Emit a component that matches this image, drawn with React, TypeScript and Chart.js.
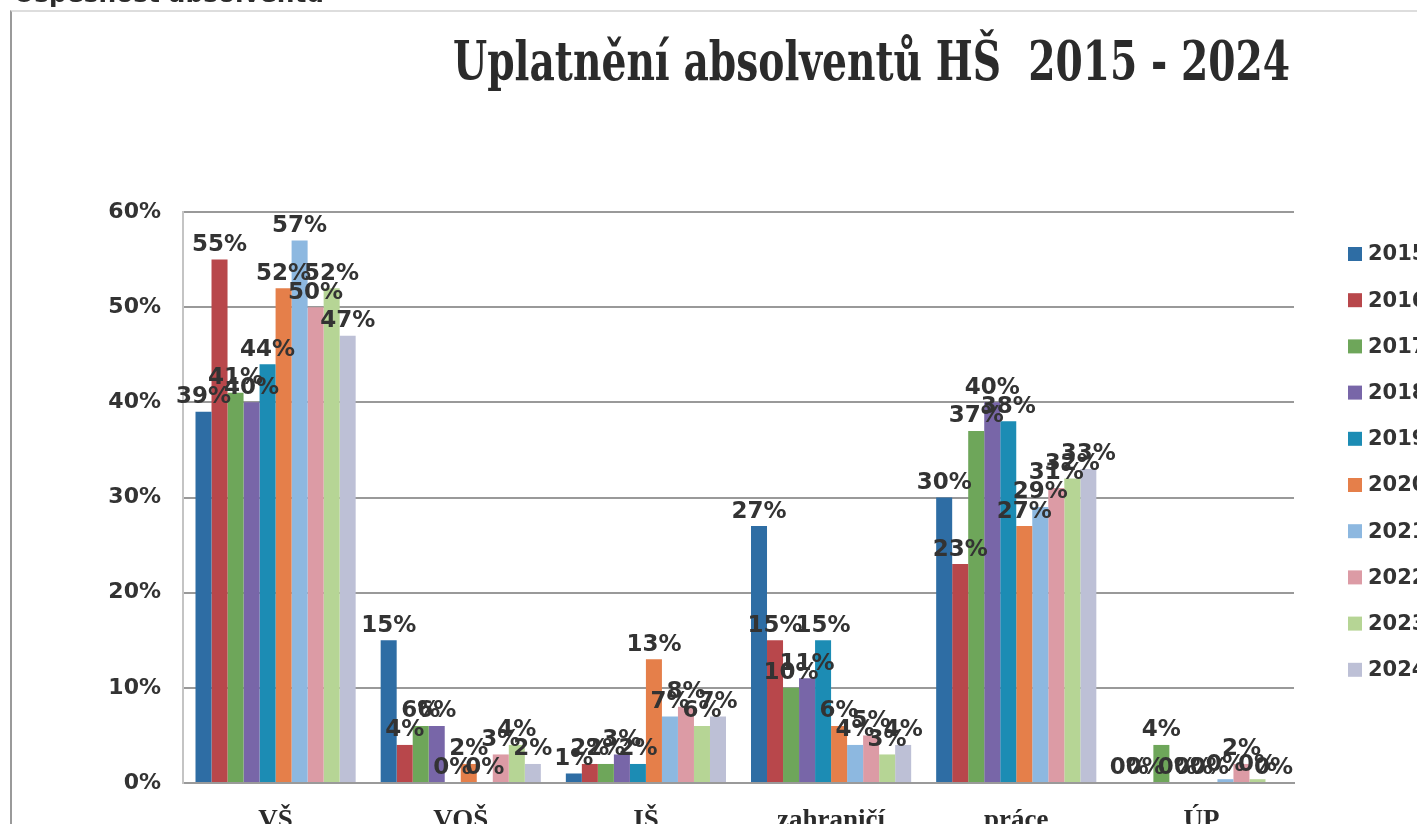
import React, { useEffect, useRef } from "react";
import { Chart, registerables } from "chart.js";

Chart.register(...registerables);

const categories = ["VŠ", "VOŠ", "IŠ", "zahraničí", "práce", "ÚP"];
const years = ["2015", "2016", "2017", "2018", "2019", "2020", "2021", "2022", "2023", "2024"];

const v2015 = [39, 15, 1, 27, 30, 0];
const v2016 = [55, 4, 2, 15, 23, 0];
const v2017 = [41, 6, 2, 10, 37, 4];
const v2018 = [40, 6, 3, 11, 40, 0];
const v2019 = [44, 0, 2, 15, 38, 0];
const v2020 = [52, 2, 13, 6, 27, 0];
const v2021 = [57, 0, 7, 4, 29, 0.4];
const v2022 = [50, 3, 8, 5, 31, 2];
const v2023 = [52, 4, 6, 3, 32, 0.4];
const v2024 = [47, 2, 7, 4, 33, 0];

const seriesValues = [v2015, v2016, v2017, v2018, v2019, v2020, v2021, v2022, v2023, v2024];
const seriesColors = [
  "#2E6DA4", "#B8474B", "#6EA65A", "#7866A8", "#1C8CB4",
  "#E57F4A", "#8DB8E0", "#DC9BA5", "#B6D595", "#BDC0D6",
];

const yTicks = [0, 10, 20, 30, 40, 50, 60];
const titleText = "Uplatnění absolventů HŠ  2015 - 2024";
const headerText = "Úspěšnost absolventů";

const CANVAS_W = 1470;
const CANVAS_H = 850;
const AREA_LEFT = 183;
const AREA_RIGHT = 1294;
const AREA_TOP = 212;
const AREA_BOTTOM = 783;

const titlePlugin = {
  id: "titleText",
  afterDraw(chart: any) {
    const ctx = chart.ctx;
    ctx.save();
    ctx.fillStyle = "#2b2b2b";
    ctx.font = 'bold 54px "DejaVu Serif"';
    ctx.textBaseline = "alphabetic";
    ctx.textAlign = "left";
    const w = ctx.measureText(titleText).width;
    const sx = 837 / w;
    ctx.translate(453, 80);
    ctx.scale(sx, 1);
    ctx.fillText(titleText, 0, 0);
    ctx.restore();

    ctx.save();
    ctx.fillStyle = "#2b2b2b";
    ctx.font = 'bold 24px "DejaVu Sans"';
    ctx.textBaseline = "alphabetic";
    ctx.textAlign = "left";
    const hw = ctx.measureText(headerText).width;
    ctx.translate(14, 2);
    ctx.scale(310 / hw, 1);
    ctx.fillText(headerText, 0, 0);
    ctx.restore();
  },
};

const legendPlugin = {
  id: "sideLegend",
  afterDraw(chart: any) {
    const ctx = chart.ctx;
    ctx.save();
    ctx.font = 'bold 21px "DejaVu Sans"';
    ctx.textBaseline = "middle";
    ctx.textAlign = "left";
    chart.data.datasets.forEach((ds: any, i: number) => {
      const y = 254 + i * 46.2;
      ctx.fillStyle = ds.backgroundColor;
      ctx.fillRect(1348, y - 7, 14, 14);
      ctx.fillStyle = "#333333";
      ctx.fillText(ds.label, 1368, y + 1);
    });
    ctx.restore();
  },
};

const valueLabelPlugin = {
  id: "valueLabels",
  afterDatasetsDraw(chart: any) {
    const ctx = chart.ctx;
    ctx.save();
    ctx.font = 'bold 23px "DejaVu Sans"';
    ctx.fillStyle = "#333333";
    ctx.textAlign = "center";
    ctx.textBaseline = "bottom";
    chart.data.datasets.forEach((ds: any, di: number) => {
      const meta = chart.getDatasetMeta(di);
      meta.data.forEach((el: any, i: number) => {
        const v = ds.data[i];
        ctx.fillText(`${Math.round(v)}%`, el.x, el.y - 3);
      });
    });
    ctx.restore();
  },
};

export default function App() {
  const canvasRef = useRef<HTMLCanvasElement | null>(null);

  useEffect(() => {
    if (!canvasRef.current) return;
    const chart = new Chart(canvasRef.current, {
      type: "bar",
      data: {
        labels: categories,
        datasets: years.map((y, i) => ({
          label: y,
          data: seriesValues[i],
          backgroundColor: seriesColors[i],
          borderWidth: 0,
          categoryPercentage: 0.865,
          barPercentage: 1.0,
        })),
      },
      options: {
        responsive: false,
        animation: false,
        devicePixelRatio: 1,
        layout: {
          padding: { top: AREA_TOP, right: CANVAS_W - AREA_RIGHT, left: 0, bottom: 0 },
        },
        plugins: {
          legend: { display: false },
          title: { display: false },
          tooltip: { enabled: false },
        },
        scales: {
          x: {
            grid: { display: false, drawTicks: false },
            border: { display: true, color: "#9a9a9a", width: 2 },
            ticks: {
              color: "#2b2b2b",
              padding: 22,
              font: { family: '"Liberation Serif"', size: 27, weight: "bold" },
            },
            afterFit: (scale: any) => {
              scale.height = CANVAS_H - AREA_BOTTOM;
            },
          },
          y: {
            min: 0,
            max: 60,
            afterBuildTicks: (scale: any) => {
              scale.ticks = yTicks.map((v) => ({ value: v }));
            },
            grid: { color: "#999999", lineWidth: 2, drawTicks: false },
            border: { display: true, color: "#c4c4c4", width: 2 },
            ticks: {
              color: "#333333",
              padding: 22,
              font: { family: '"DejaVu Sans"', size: 22, weight: "bold" },
              callback: (v: any) => `${v}%`,
            },
            afterFit: (scale: any) => {
              scale.width = AREA_LEFT;
            },
          },
        },
      },
      plugins: [titlePlugin, legendPlugin, valueLabelPlugin],
    });
    return () => chart.destroy();
  }, []);

  return (
    <div
      style={{
        position: "fixed",
        left: 0,
        top: 0,
        width: 1417,
        height: 824,
        overflow: "hidden",
        background: "#ffffff",
      }}
    >
      <canvas
        ref={canvasRef}
        width={CANVAS_W}
        height={CANVAS_H}
        style={{ position: "absolute", left: 0, top: 0, width: CANVAS_W, height: CANVAS_H }}
      />
      <div
        style={{
          position: "absolute",
          left: 10,
          top: 10,
          width: 1500,
          height: 900,
          borderLeft: "2px solid #9a9a9a",
          borderTop: "2px solid #dddddd",
          pointerEvents: "none",
        }}
      />
    </div>
  );
}
